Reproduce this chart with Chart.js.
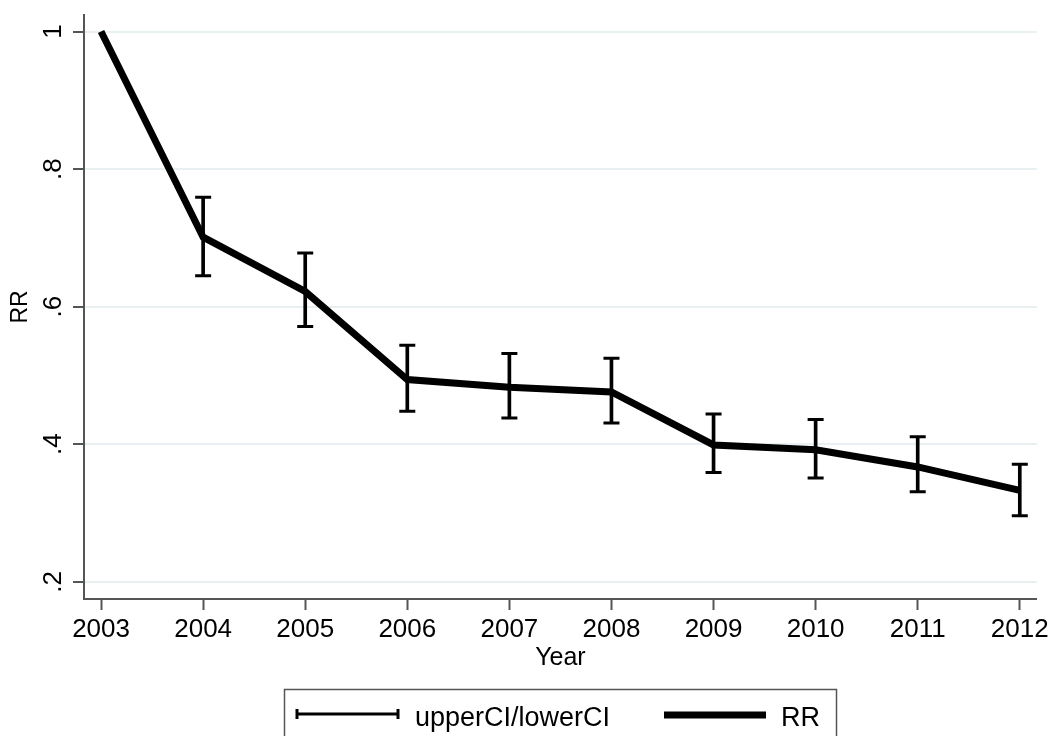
<!DOCTYPE html>
<html>
<head>
<meta charset="utf-8">
<script src="https://cdn.jsdelivr.net/npm/chart.js@4/dist/chart.umd.min.js"></script>
<style>
  html, body { margin: 0; padding: 0; background: #ffffff; }
  #wrap { width: 1053px; height: 736px; position: relative; }
</style>
</head>
<body>
<div id="wrap"><canvas id="c" width="1053" height="736"></canvas></div>
<script>
// ---- data ----
const years = [2003, 2004, 2005, 2006, 2007, 2008, 2009, 2010, 2011, 2012];
const rr = [1.0, 0.701, 0.622, 0.494, 0.483, 0.476, 0.399, 0.392, 0.367, 0.333];
const ciYears = [2004, 2005, 2006, 2007, 2008, 2009, 2010, 2011, 2012];
const upperCI = [0.759, 0.678, 0.544, 0.532, 0.525, 0.444, 0.436, 0.411, 0.371];
const lowerCI = [0.645, 0.571, 0.448, 0.438, 0.431, 0.359, 0.351, 0.331, 0.296];
const yTickValues = [0.2, 0.4, 0.6, 0.8, 1.0];
const yTickLabels = ['.2', '.4', '.6', '.8', '1'];
const legendLabels = ['upperCI/lowerCI', 'RR'];
const xTitle = 'Year';
const yTitle = 'RR';

const FONT = '"Liberation Sans", Arial, Helvetica, sans-serif';
const AXIS = '#555555';
const GRID = '#e8f0f2';

const whiskers = ciYears.map((x, i) => ({ x: x, y: [lowerCI[i], upperCI[i]] }));
const caps = [];
ciYears.forEach((x, i) => { caps.push({ x: x, y: upperCI[i] }); caps.push({ x: x, y: lowerCI[i] }); });
const rrPoints = years.map((x, i) => ({ x: x, y: rr[i] }));

const yLabelPlugin = {
  id: 'yLabels',
  afterDraw(chart) {
    const ys = chart.scales.y;
    const ctx = chart.ctx;
    ctx.save();
    ctx.fillStyle = '#000';
    ctx.font = '26px ' + FONT;
    ctx.textAlign = 'center';
    ctx.textBaseline = 'alphabetic';
    yTickValues.forEach((v, i) => {
      const py = ys.getPixelForValue(v);
      ctx.save();
      ctx.translate(61, py);
      ctx.rotate(-Math.PI / 2);
      ctx.fillText(yTickLabels[i], 0, 0);
      ctx.restore();
    });
    ctx.restore();
  }
};

const legendPlugin = {
  id: 'stataLegend',
  afterDraw(chart) {
    const ctx = chart.ctx;
    ctx.save();
    ctx.strokeStyle = AXIS;
    ctx.lineWidth = 1.5;
    ctx.strokeRect(284.5, 689.5, 552, 80);
    // error bar symbol
    ctx.strokeStyle = '#000';
    ctx.lineWidth = 3;
    ctx.beginPath();
    ctx.moveTo(296, 714); ctx.lineTo(399, 714);
    ctx.moveTo(297, 709); ctx.lineTo(297, 719);
    ctx.moveTo(398, 709); ctx.lineTo(398, 719);
    ctx.stroke();
    // thick line symbol
    ctx.lineWidth = 7;
    ctx.beginPath();
    ctx.moveTo(664, 715); ctx.lineTo(766, 715);
    ctx.stroke();
    ctx.fillStyle = '#000';
    ctx.font = '27px ' + FONT;
    ctx.textAlign = 'left';
    ctx.textBaseline = 'alphabetic';
    ctx.fillText(legendLabels[0], 415, 726);
    ctx.fillText(legendLabels[1], 781, 726);
    ctx.restore();
  }
};

new Chart(document.getElementById('c'), {
  type: 'line',
  data: {
    datasets: [
      {
        type: 'line',
        label: legendLabels[1],
        data: rrPoints,
        borderColor: '#000',
        backgroundColor: '#000',
        borderWidth: 7,
        pointRadius: 0,
        tension: 0,
        fill: false,
        order: 0
      },
      {
        type: 'bar',
        label: legendLabels[0],
        data: whiskers,
        backgroundColor: '#000',
        borderWidth: 0,
        barThickness: 3,
        order: 2
      },
      {
        type: 'line',
        label: 'caps',
        data: caps,
        showLine: false,
        pointStyle: 'line',
        pointRadius: 8,
        pointBorderWidth: 3,
        pointBorderColor: '#000',
        pointBackgroundColor: '#000',
        order: 1
      }
    ]
  },
  options: {
    responsive: false,
    animation: false,
    devicePixelRatio: 1,
    layout: { padding: { top: 15, right: 16, bottom: 65, left: 0 } },
    plugins: { legend: { display: false }, tooltip: { enabled: false } },
    scales: {
      x: {
        type: 'linear',
        min: 2002.833,
        max: 2012.167,
        offset: false,
        afterBuildTicks: (s) => { s.ticks = years.map(v => ({ value: v })); },
        afterFit: (s) => { s.height = 72; },
        ticks: {
          callback: (v) => String(v),
          color: '#000',
          font: { family: FONT, size: 26 },
          padding: 4,
          maxRotation: 0,
          minRotation: 0,
          autoSkip: false
        },
        grid: { color: 'rgba(0,0,0,0)', tickColor: AXIS, tickLength: 11, tickWidth: 2, offset: false, drawOnChartArea: false },
        border: { display: true, color: AXIS, width: 2 },
        title: { display: true, text: xTitle, color: '#000', font: { family: FONT, size: 25, lineHeight: 1 }, padding: 0 }
      },
      y: {
        type: 'linear',
        min: 0.175,
        max: 1.024,
        afterBuildTicks: (s) => { s.ticks = yTickValues.map(v => ({ value: v })); },
        afterFit: (s) => { s.width = 84; },
        ticks: { display: false },
        grid: { color: GRID, lineWidth: 2, tickColor: AXIS, tickLength: 11, tickWidth: 2 },
        border: { display: true, color: AXIS, width: 2 },
        title: { display: true, text: yTitle, color: '#000', font: { family: FONT, size: 23, lineHeight: 1 }, padding: { top: 9, bottom: 0 } }
      }
    }
  },
  plugins: [yLabelPlugin, legendPlugin]
});
</script>
</body>
</html>
